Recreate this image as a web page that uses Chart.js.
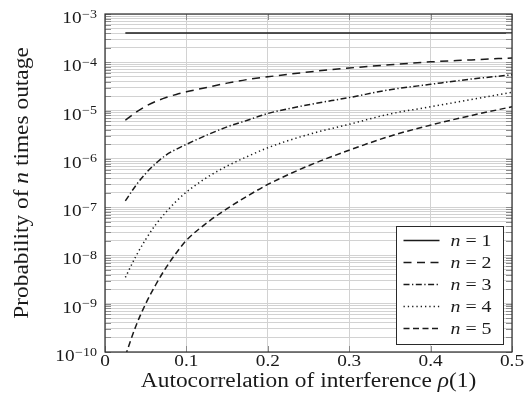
<!DOCTYPE html>
<html>
<head>
<meta charset="utf-8">
<script src="https://cdn.jsdelivr.net/npm/chart.js@4/dist/chart.umd.min.js"></script>
<style>
	html, body { margin: 0; padding: 0; background: #fff; }
	canvas { display: block; }
</style>
</head>
<body>
<canvas id="outageChart" width="525" height="411"></canvas>
<script>
// autocorrelation values where the curves were read
const rho = [0.025, 0.0375, 0.05, 0.0625, 0.075, 0.0875, 0.1, 0.125, 0.15, 0.175, 0.2, 0.25, 0.3, 0.35, 0.4, 0.45, 0.5];

const pOut1 = [4.05e-4, 4.05e-4, 4.05e-4, 4.05e-4, 4.05e-4, 4.05e-4, 4.05e-4, 4.05e-4, 4.05e-4, 4.05e-4, 4.05e-4, 4.05e-4, 4.05e-4, 4.05e-4, 4.05e-4, 4.05e-4, 4.05e-4];
const pOut2 = [6.3e-6, 9.1e-6, 1.23e-5, 1.55e-5, 1.86e-5, 2.16e-5, 2.45e-5, 3.0e-5, 3.7e-5, 4.4e-5, 5.0e-5, 6.3e-5, 7.6e-5, 8.9e-5, 1.02e-4, 1.12e-4, 1.23e-4];
const pOut3 = [1.35e-7, 2.75e-7, 5.0e-7, 8.1e-7, 1.2e-6, 1.58e-6, 2.0e-6, 3.1e-6, 4.6e-6, 6.3e-6, 8.7e-6, 1.32e-5, 1.86e-5, 2.7e-5, 3.5e-5, 4.5e-5, 5.5e-5];
const pOut4 = [3.5e-9, 9.3e-9, 2.15e-8, 4.4e-8, 7.9e-8, 1.32e-7, 2.05e-7, 4.1e-7, 7.1e-7, 1.12e-6, 1.7e-6, 3.2e-6, 5.2e-6, 8.5e-6, 1.2e-5, 1.7e-5, 2.4e-5];
const pOut5 = [8.3e-11, 3.3e-10, 1.0e-9, 2.5e-9, 5.6e-9, 1.12e-8, 2.05e-8, 4.7e-8, 9.3e-8, 1.7e-7, 2.95e-7, 7.2e-7, 1.51e-6, 2.95e-6, 5.0e-6, 7.9e-6, 1.2e-5];

const seriesNames = ["1", "2", "3", "4", "5"];
const xTicks = [0, 0.1, 0.2, 0.3, 0.4, 0.5];
const xTickLabels = ["0", "0.1", "0.2", "0.3", "0.4", "0.5"];
const yDecades = [-10, -9, -8, -7, -6, -5, -4, -3];
const xTitle = [["Autocorrelation of interference ", false], ["\u03c1", true], ["(1)", false]];
const yTitle = [["Probability of ", false], ["n", true], [" times outage", false]];

const FAMILY = "'Liberation Serif', 'Times New Roman', serif";
const STRETCH = 1.17;
const INK = "#1a1a1a";

function setFont(ctx, size, italic) {
	ctx.font = (italic ? "italic " : "") + size + "px " + FAMILY;
}

function textWidth(ctx, parts, size) {
	let w = 0;
	parts.forEach(function (p) {
		setFont(ctx, size, p[1]);
		w += ctx.measureText(p[0]).width;
	});
	return w * STRETCH;
}

function drawText(ctx, parts, x, y, size, align, angle) {
	const w = textWidth(ctx, parts, size);
	ctx.save();
	ctx.translate(x, y);
	if (angle) ctx.rotate(angle);
	ctx.scale(STRETCH, 1);
	let cx = align === "center" ? -w / 2 : align === "right" ? -w : 0;
	cx /= STRETCH;
	ctx.textAlign = "left";
	ctx.textBaseline = "alphabetic";
	parts.forEach(function (p) {
		setFont(ctx, size, p[1]);
		ctx.fillText(p[0], cx, 0);
		cx += ctx.measureText(p[0]).width;
	});
	ctx.restore();
}

function points(values) {
	return rho.map(function (r, i) { return { x: r, y: values[i] }; });
}

const frame = {
	id: "frame",
	afterDraw: function (chart) {
		const ctx = chart.ctx;
		const a = chart.chartArea;
		const xs = chart.scales.x;
		const ys = chart.scales.y;

		ctx.save();

		// small inner tick marks
		ctx.strokeStyle = "#8c8c8c";
		ctx.lineWidth = 1;
		ctx.beginPath();
		ys.ticks.forEach(function (t) {
			const py = Math.round(ys.getPixelForValue(t.value)) + 0.5;
			ctx.moveTo(a.left, py);
			ctx.lineTo(a.left + 6, py);
			ctx.moveTo(a.right, py);
			ctx.lineTo(a.right - 6, py);
		});
		xTicks.forEach(function (v) {
			const px = Math.round(xs.getPixelForValue(v)) + 0.5;
			ctx.moveTo(px, a.bottom);
			ctx.lineTo(px, a.bottom - 6);
			ctx.moveTo(px, a.top);
			ctx.lineTo(px, a.top + 6);
		});
		ctx.stroke();

		// axis box
		ctx.strokeStyle = "#2a2a2a";
		ctx.lineWidth = 1.2;
		ctx.strokeRect(a.left, a.top, a.right - a.left, a.bottom - a.top);

		ctx.fillStyle = INK;

		// y tick labels 10^e
		yDecades.forEach(function (e) {
			const py = ys.getPixelForValue(Math.pow(10, e));
			const sup = [["\u2212" + Math.abs(e), false]];
			const sw = textWidth(ctx, sup, 12);
			drawText(ctx, sup, a.left - 8, py + 3.5, 12, "right");
			drawText(ctx, [["10", false]], a.left - 8 - sw - 0.5, py + 9, 16.5, "right");
		});

		// x tick labels
		xTicks.forEach(function (v, i) {
			drawText(ctx, [[xTickLabels[i], false]], xs.getPixelForValue(v), a.bottom + 14, 16.5, "center");
		});

		// axis titles
		drawText(ctx, xTitle, (a.left + a.right) / 2, a.bottom + 35, 20, "center");
		drawText(ctx, yTitle, 28, (a.top + a.bottom) / 2, 20, "center", -Math.PI / 2);

		// legend
		const bw = 107, bh = 118;
		const bx = Math.round(a.right - 9 - bw) + 0.5;
		const by = Math.round(a.bottom - 8 - bh) + 0.5;
		ctx.fillStyle = "#fff";
		ctx.fillRect(bx, by, bw, bh);
		ctx.strokeStyle = "#2a2a2a";
		ctx.lineWidth = 1;
		ctx.strokeRect(bx, by, bw, bh);

		chart.data.datasets.forEach(function (ds, i) {
			const base = by + 19 + i * 22;
			ctx.beginPath();
			ctx.setLineDash(ds.borderDash || []);
			ctx.lineWidth = ds.borderWidth;
			ctx.strokeStyle = ds.borderColor;
			ctx.moveTo(bx + 7, base - 5);
			ctx.lineTo(bx + 43, base - 5);
			ctx.stroke();
			ctx.setLineDash([]);
			ctx.fillStyle = INK;
			drawText(ctx, [["n", true], [" = " + seriesNames[i], false]], bx + 54, base, 17, "left");
		});

		ctx.restore();
	}
};

function line(values, dash) {
	return {
		data: points(values),
		borderColor: INK,
		borderWidth: 1.5,
		borderDash: dash,
		borderCapStyle: "butt",
		pointRadius: 0,
		cubicInterpolationMode: "monotone",
		fill: false
	};
}

new Chart(document.getElementById("outageChart"), {
	type: "line",
	data: {
		datasets: [
			line(pOut1, []),
			line(pOut2, [8, 5.5]),
			line(pOut3, [6, 2.5, 1.3, 2.5]),
			line(pOut4, [1.3, 3]),
			line(pOut5, [6, 3.5])
		]
	},
	options: {
		responsive: false,
		animation: false,
		events: [],
		layout: { padding: { top: 14, right: 13, left: 0, bottom: 0 } },
		plugins: {
			legend: { display: false },
			tooltip: { enabled: false }
		},
		scales: {
			x: {
				type: "linear",
				min: 0,
				max: 0.5,
				afterBuildTicks: function (scale) {
					scale.ticks = xTicks.map(function (v) { return { value: v }; });
				},
				afterFit: function (scale) { scale.height = 59; },
				ticks: { display: false },
				grid: { color: "#d2d2d2", lineWidth: 1, drawTicks: false },
				border: { display: false }
			},
			y: {
				type: "logarithmic",
				min: 1e-10,
				max: 1e-3,
				afterBuildTicks: function (scale) {
					const ticks = [];
					for (let e = -10; e < -3; e++) {
						for (let k = 1; k <= 9; k++) ticks.push({ value: k * Math.pow(10, e) });
					}
					ticks.push({ value: 1e-3 });
					scale.ticks = ticks;
				},
				afterFit: function (scale) { scale.width = 105; },
				ticks: { display: false },
				grid: { color: "#d2d2d2", lineWidth: 1, drawTicks: false },
				border: { display: false }
			}
		}
	},
	plugins: [frame]
});
</script>
</body>
</html>
